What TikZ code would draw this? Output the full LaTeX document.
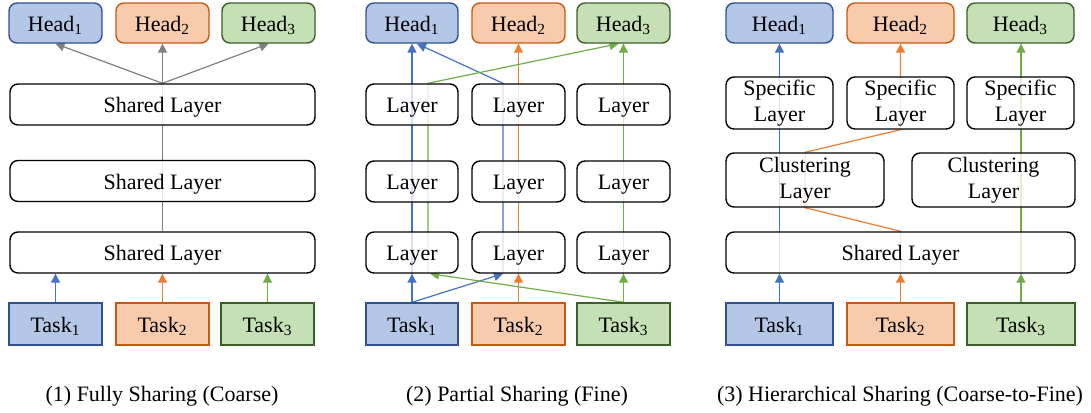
\documentclass[tikz,border=0pt]{standalone}
\usepackage{xcolor}
\usepackage{fontspec}
\setmainfont{Liberation Serif}
\usetikzlibrary{arrows.meta,backgrounds}
\definecolor{azul}{HTML}{4472C4}
\definecolor{azulfondo}{HTML}{B4C7E7}
\definecolor{azulborde}{HTML}{2F528F}
\definecolor{naranja}{HTML}{ED7D31}
\definecolor{naranjafondo}{HTML}{F8CBAD}
\definecolor{naranjaborde}{HTML}{C55A11}
\definecolor{verde}{HTML}{70AD47}
\definecolor{verdefondo}{HTML}{C5E0B4}
\definecolor{verdeborde}{HTML}{3B5E2B}
\definecolor{gris}{HTML}{7F7F7F}

\begin{document}
\begin{tikzpicture}[x=0.5pt, y=-0.5pt,
    every node/.style={font=\fontsize{11}{13}\selectfont},
    caja/.style={draw, line width=0.7pt, inner sep=1pt, align=center},
    unalinea/.style={text height=9.5pt, text depth=1.2pt},
    doble/.style={caja, rounded corners=4pt, fill=white, fill opacity=0.8, text opacity=1},
    capa/.style={doble, unalinea, minimum height=20.5pt},
    cabeza/.style={caja, unalinea, rounded corners=4pt, minimum height=20pt},
    tarea/.style={caja, unalinea, minimum height=21pt},
    azulC/.style={fill=azulfondo, draw=azulborde},
    naranjaC/.style={fill=naranjafondo, draw=naranjaborde},
    verdeC/.style={fill=verdefondo, draw=verdeborde},
    flecha/.style={line width=0.6pt, -{Triangle[length=4.5pt,width=4.5pt]}},
    linea/.style={line width=0.6pt}]
    \useasboundingbox (0,0) rectangle (1091,412);

    % Panel 1: todo compartido
    \node[cabeza, azulC, minimum width=46.5pt] (h11) at (55.5,23) {Head\textsubscript{1}};
    \node[cabeza, naranjaC, minimum width=46.5pt] (h12) at (162.5,23) {Head\textsubscript{2}};
    \node[cabeza, verdeC, minimum width=46.5pt] (h13) at (268.5,23) {Head\textsubscript{3}};
    \node[capa, minimum width=152.5pt] (sa) at (162.5,104.5) {Shared Layer};
    \node[capa, minimum width=152.5pt] (sb) at (162.5,181) {Shared Layer};
    \node[capa, minimum width=152.5pt] (sc) at (162.5,252.5) {Shared Layer};
    \node[tarea, azulC, minimum width=46.5pt] (t11) at (55.5,324) {Task\textsubscript{1}};
    \node[tarea, naranjaC, minimum width=46.5pt] (t12) at (162.5,324) {Task\textsubscript{2}};
    \node[tarea, verdeC, minimum width=46.5pt] (t13) at (267.5,324) {Task\textsubscript{3}};
    \node (cap1) at (162,396) {(1) Fully Sharing (Coarse)};

    % Panel 2: compartido parcial
    \node[cabeza, azulC, minimum width=46pt] (h21) at (412,23) {Head\textsubscript{1}};
    \node[cabeza, naranjaC, minimum width=46.5pt] (h22) at (518.5,23) {Head\textsubscript{2}};
    \node[cabeza, verdeC, minimum width=46.5pt] (h23) at (623.5,23) {Head\textsubscript{3}};
    \node[capa, minimum width=46pt] (l11) at (412,104.5) {Layer};
    \node[capa, minimum width=46.5pt] (l12) at (518.5,104.5) {Layer};
    \node[capa, minimum width=46.5pt] (l13) at (623.5,104.5) {Layer};
    \node[capa, minimum width=46pt] (l21) at (412,181.5) {Layer};
    \node[capa, minimum width=46.5pt] (l22) at (518.5,181.5) {Layer};
    \node[capa, minimum width=46.5pt] (l23) at (623.5,181.5) {Layer};
    \node[capa, minimum width=46pt] (l31) at (412,252.5) {Layer};
    \node[capa, minimum width=46.5pt] (l32) at (518.5,252.5) {Layer};
    \node[capa, minimum width=46.5pt] (l33) at (623.5,252.5) {Layer};
    \node[tarea, azulC, minimum width=46pt] (t21) at (412,324) {Task\textsubscript{1}};
    \node[tarea, naranjaC, minimum width=46.5pt] (t22) at (518.5,324) {Task\textsubscript{2}};
    \node[tarea, verdeC, minimum width=46.5pt] (t23) at (623.5,324) {Task\textsubscript{3}};
    \node (cap2) at (517,396) {(2) Partial Sharing (Fine)};

    % Panel 3: compartido jerarquico
    \node[cabeza, azulC, minimum width=53.5pt] (h31) at (779.5,23) {Head\textsubscript{1}};
    \node[cabeza, naranjaC, minimum width=53.5pt] (h32) at (900.5,23) {Head\textsubscript{2}};
    \node[cabeza, verdeC, minimum width=53.5pt] (h33) at (1020.5,23) {Head\textsubscript{3}};
    \node[doble, minimum width=53.5pt, minimum height=26pt] (p31) at (779.5,103) {Specific\\Layer};
    \node[doble, minimum width=53.5pt, minimum height=26pt] (p32) at (900.5,103) {Specific\\Layer};
    \node[doble, minimum width=53.5pt, minimum height=26pt] (p33) at (1020.5,103) {Specific\\Layer};
    \node[doble, minimum width=79pt, minimum height=27pt] (c31) at (805,180) {Clustering\\Layer};
    \node[doble, minimum width=81.5pt, minimum height=27pt] (c32) at (993.5,180) {Clustering\\Layer};
    \node[capa, minimum width=174.5pt] (s3) at (900.5,252.5) {Shared Layer};
    \node[tarea, azulC, minimum width=53.5pt] (t31) at (779.5,324) {Task\textsubscript{1}};
    \node[tarea, naranjaC, minimum width=53.5pt] (t32) at (900.5,324) {Task\textsubscript{2}};
    \node[tarea, verdeC, minimum width=54pt] (t33) at (1021,324) {Task\textsubscript{3}};
    \node (cap3) at (900,396) {(3) Hierarchical Sharing (Coarse-to-Fine)};

    % Conectores (detras de las cajas)
    \begin{pgfonlayer}{background}
        \draw[flecha, azul] (t11.north) -- (t11.north |- sc.south);
        \draw[flecha, naranja] (t12.north) -- (t12.north |- sc.south);
        \draw[flecha, verde] (t13.north) -- (t13.north |- sc.south);
        \draw[linea, gris] (sc.north) -- (sa.north);
        \draw[flecha, gris] (sa.north) -- (h11.south);
        \draw[flecha, gris] (sa.north) -- (h12.south);
        \draw[flecha, gris] (sa.north) -- (h13.south);

        \draw[flecha, azul] (t21.north) -- (l31.south);
        \draw[flecha, azul] (t21.north) -- ([xshift=-7.75pt]l32.south);
        \draw[flecha, azul] (l31.south) -- (h21.south);
        \draw[flecha, azul] ([xshift=-7.75pt]l32.south) -- ([xshift=-7.75pt]l12.north) -- ([xshift=2.5pt]h21.south);
        \draw[flecha, naranja] (t22.north) -- (l32.south);
        \draw[flecha, naranja] (l32.south) -- (h22.south);
        \draw[flecha, verde] (t23.north) -- ([xshift=9pt]l31.south);
        \draw[flecha, verde] ([xshift=8pt]l31.south) -- ([xshift=8pt]l11.north) -- ([xshift=-2.5pt]h23.south);
        \draw[flecha, verde] (t23.north) -- (l33.south);
        \draw[flecha, verde] (l33.south) -- (h23.south);

        \draw[flecha, azul] (t31.north) -- (t31.north |- s3.south);
        \draw[flecha, azul] (t31.north |- s3.south) -- (h31.south);
        \draw[flecha, naranja] (t32.north) -- (t32.north |- s3.south);
        \draw[flecha, naranja] (t32.north |- s3.south) -- (t32.north |- s3.north) -- (c31.south) -- (c31.north) -- (p32.south) -- (h32.south);
        \draw[flecha, verde] (t33.north) -- (t33.north |- s3.south);
        \draw[flecha, verde] (t33.north |- s3.south) -- (t33.north |- h33.south);
    \end{pgfonlayer}
\end{tikzpicture}
\end{document}
